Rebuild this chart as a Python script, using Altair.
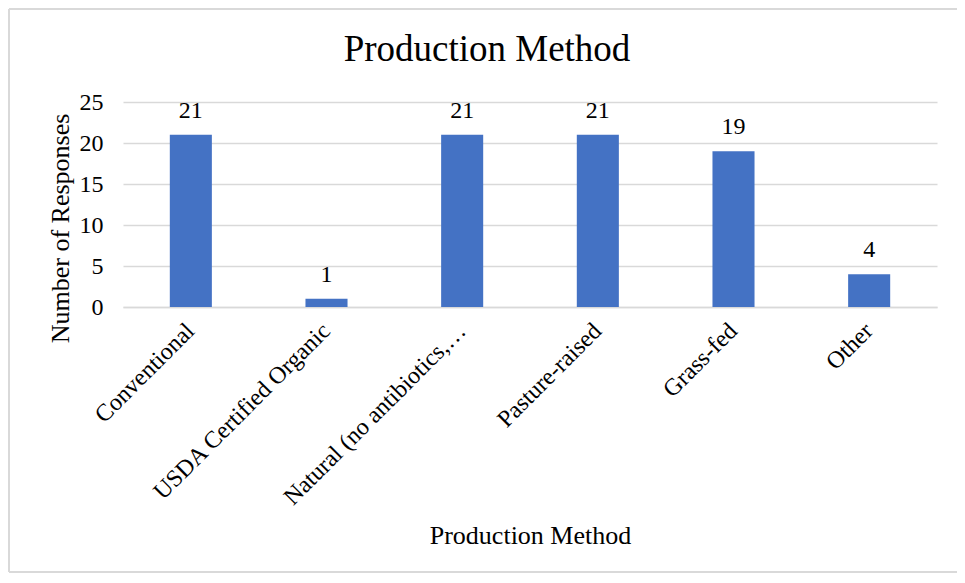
import altair as alt
import pandas as pd

categories = ["Conventional", "USDA Certified Organic", "Natural (no antibiotics,…",
              "Pasture-raised", "Grass-fed", "Other"]
values = [21, 1, 21, 21, 19, 4]

df = pd.DataFrame({"method": categories, "count": values})

FONT = "Liberation Serif"
GRID = "#d9d9d9"

x = alt.X("method:N", sort=categories,
          scale=alt.Scale(paddingInner=0.69, paddingOuter=0.345),
          axis=alt.Axis(title="Production Method", labelAngle=-45, labelAlign="right",
                        labelBaseline="middle", labelPadding=20, labelFontSize=24,
                        labelLimit=0,
                        labelFont=FONT, labelColor="black", ticks=False,
                        domain=True, domainColor=GRID, domainWidth=1.5,
                        titleFont=FONT, titleFontSize=26, titleFontWeight="normal",
                        titleColor="black", titleY=228, titleBaseline="middle"))
y = alt.Y("count:Q", scale=alt.Scale(domain=[0, 25]),
          axis=alt.Axis(title="Number of Responses", values=[0, 5, 10, 15, 20, 25],
                        labelFont=FONT, labelFontSize=24, labelColor="black",
                        labelPadding=20, ticks=False, domain=False,
                        gridColor=GRID, gridWidth=1.5,
                        titleFont=FONT, titleFontSize=26, titleFontWeight="normal",
                        titleColor="black", titleX=-63, titleY=126,
                        titleBaseline="middle", titleAlign="center"))

base = alt.Chart(df)
bars = base.mark_bar(color="#4472C4").encode(x=x, y=y)
labels = base.mark_text(dy=-17, baseline="alphabetic", font=FONT, fontSize=24,
                        color="black").encode(x=x, y=y, text="count:Q")

frame = alt.Chart(pd.DataFrame({"k": [0]}))
top_line = frame.mark_rule(color=GRID, strokeWidth=2).encode(
    x=alt.value(-114), x2=alt.value(860), y=alt.value(-93))
bottom_line = frame.mark_rule(color=GRID, strokeWidth=2).encode(
    x=alt.value(-114), x2=alt.value(860), y=alt.value(470))
left_line = frame.mark_rule(color=GRID, strokeWidth=2).encode(
    x=alt.value(-114), y=alt.value(-93), y2=alt.value(470))

chart = alt.layer(bars, labels, top_line, bottom_line, left_line).properties(
    width=814, height=205,
    autosize=alt.AutoSizeParams(type="none"),
    padding={"left": 115, "top": 94, "right": 20, "bottom": 267},
    title=alt.Title("Production Method", font=FONT, fontSize=37, fontWeight="normal",
                    color="black", dx=-43, offset=0, dy=61),
).configure_view(stroke=None)

chart.save("out.html", embed_options={"renderer": "svg", "actions": False})
